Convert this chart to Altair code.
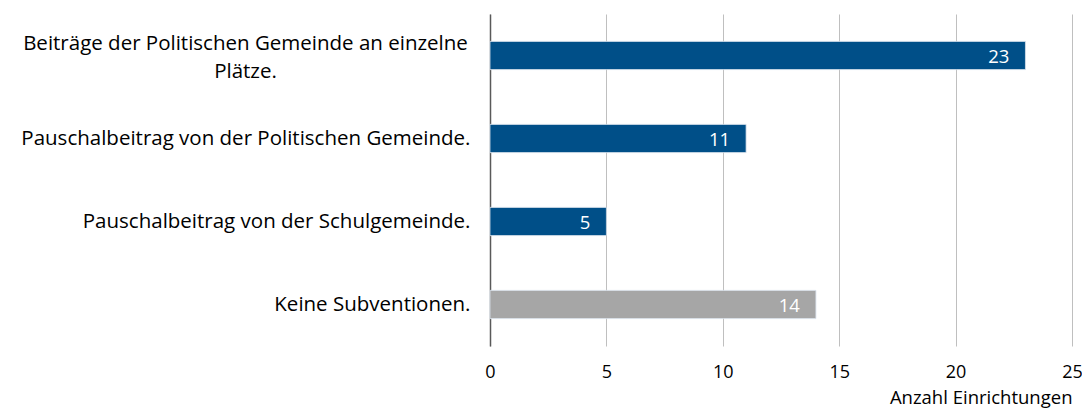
import altair as alt
import pandas as pd

categories = [
    "Beiträge der Politischen Gemeinde an einzelne Plätze.",
    "Pauschalbeitrag von der Politischen Gemeinde.",
    "Pauschalbeitrag von der Schulgemeinde.",
    "Keine Subventionen.",
]
values = [23, 11, 5, 14]
groups = ["sub", "sub", "sub", "none"]
colors = ["#004F88", "#A6A6A6"]

df = pd.DataFrame({"cat": categories, "val": values, "grp": groups})

FONT = "Open Sans"
FIRST = "indexof(datum.value, 'Beiträge') == 0"

y_enc = alt.Y(
    "cat:N",
    sort=categories,
    title=None,
    scale=alt.Scale(paddingInner=0.66, paddingOuter=0.33),
    axis=alt.Axis(
        domainColor="#595959",
        domainWidth=1.5,
        ticks=False,
        grid=False,
        labelFont=FONT,
        labelFontSize=20.5,
        labelColor="#000000",
        labelLimit=700,
        labelExpr=FIRST + " ? ['Beiträge der Politischen Gemeinde an einzelne', 'Plätze.'] : datum.value",
        labelAlign={"condition": {"test": FIRST, "value": "center"}, "value": "right"},
        labelPadding={"condition": {"test": FIRST, "value": 245}, "value": 20},
        labelOffset={"condition": {"test": FIRST, "value": -12}, "value": 0},
        labelLineHeight=28,
    ),
)

x_enc = alt.X(
    "val:Q",
    scale=alt.Scale(domain=[0, 25], nice=False),
    title="Anzahl Einrichtungen",
    axis=alt.Axis(
        values=[0, 5, 10, 15, 20, 25],
        domain=False,
        ticks=False,
        grid=True,
        gridColor="#BFBFBF",
        gridWidth=1,
        labelFont=FONT,
        labelFontSize=18,
        labelColor="#000000",
        labelPadding=17,
        labelFlush=False,
        titleFont=FONT,
        titleFontSize=18.5,
        titleFontWeight="normal",
        titleColor="#000000",
        titleAnchor="end",
        titlePadding=7,
    ),
)

bars = alt.Chart(df).mark_bar(stroke="#D9E2EC", strokeWidth=0.8).encode(
    y=y_enc,
    x=x_enc,
    color=alt.Color("grp:N", scale=alt.Scale(domain=["sub", "none"], range=colors), legend=None),
)

text = alt.Chart(df).mark_text(align="right", baseline="middle", dx=-16, dy=1, color="white", font=FONT, fontSize=18.5).encode(
    y=alt.Y("cat:N", sort=categories),
    x="val:Q",
    text="val:Q",
)

chart = alt.layer(bars, text).properties(
    width=582,
    height=332,
    autosize=alt.AutoSizeParams(type="none"),
    padding={"left": 482, "top": 6, "right": 10, "bottom": 63},
).configure_view(stroke=None)

chart.save("out.html", embed_options={"renderer": "svg", "actions": False})
